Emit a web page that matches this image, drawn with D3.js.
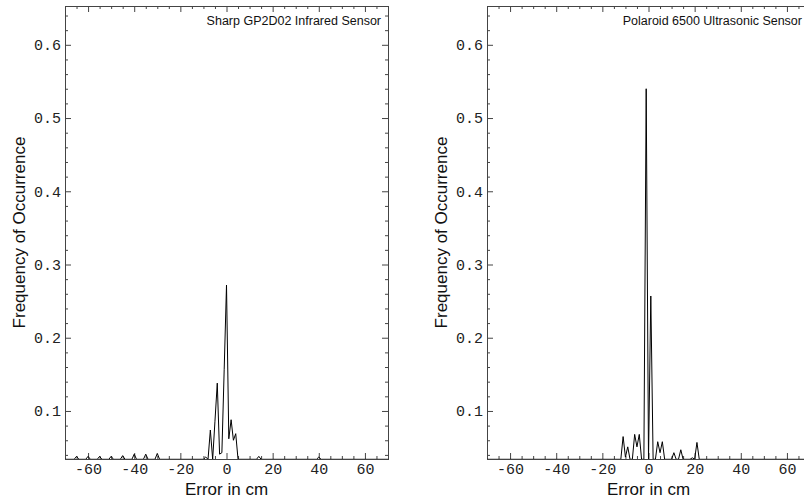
<!DOCTYPE html>
<html>
<head>
<meta charset="utf-8">
<script src="https://cdn.jsdelivr.net/npm/d3@7"></script>
<style>
  body { margin: 0; background: #fff; }
  .tick line { stroke: #444; }
  .tick text { font-family: "Liberation Mono", monospace; font-size: 15px; fill: #222; }
  .domain { display: none; }
  .aText { font-family: "Liberation Sans", Arial, sans-serif; font-size: 17px; fill: #111; }
  .title { font-family: "Liberation Sans", Arial, sans-serif; font-size: 12.5px; fill: #111; }
</style>
</head>
<body>
<div id="chart"></div>
<script>
// tick labels
const xTickValues = [-60, -40, -20, 0, 20, 40, 60];
const xMinorValues = [-70, -65, -55, -50, -45, -35, -30, -25, -15, -10, -5, 5, 10, 15, 25, 30, 35, 45, 50, 55, 65, 70];
const yTickValues = [0.1, 0.2, 0.3, 0.4, 0.5, 0.6];
const yMinorValues = [0.04, 0.06, 0.08, 0.12, 0.14, 0.16, 0.18, 0.22, 0.24, 0.26, 0.28,
                      0.32, 0.34, 0.36, 0.38, 0.42, 0.44, 0.46, 0.48, 0.52, 0.54, 0.56, 0.58, 0.62, 0.64];

// Sharp GP2D02 infrared sensor: error (cm) and frequency
const sharpError = [-70, -66, -65, -64, -61, -60, -59, -56, -55, -54, -51, -50, -49, -46, -45, -44,
                    -41, -40, -39, -36, -35, -34, -31, -30, -29, -10, -9, -8, -7, -6, -5, -4, -3, -2,
                    -1, 0, 1, 2, 3, 4, 5, 13, 14, 15, 39, 40, 41, 70];
const sharpFreq  = [0.034, 0.034, 0.038, 0.034, 0.034, 0.038, 0.034, 0.034, 0.038, 0.034, 0.034, 0.038, 0.034, 0.034, 0.039, 0.034,
                    0.034, 0.041, 0.034, 0.034, 0.041, 0.034, 0.034, 0.042, 0.034, 0.034, 0.037, 0.034, 0.074, 0.034, 0.086, 0.138, 0.041, 0.043,
                    0.157, 0.272, 0.062, 0.088, 0.060, 0.069, 0.034, 0.034, 0.038, 0.034, 0.034, 0.037, 0.034, 0.034];

// Polaroid 6500 ultrasonic sensor
const polaroidError = [-70, -12, -11, -10, -9, -8, -7, -6, -5, -4, -3, -2, -1, 0, 1, 2, 3, 4, 5, 6, 7,
                       10, 11, 12, 13, 14, 15, 18, 19, 20, 21, 22, 70];
const polaroidFreq  = [0.034, 0.034, 0.065, 0.037, 0.051, 0.034, 0.034, 0.068, 0.051, 0.068, 0.034, 0.034, 0.540, 0.034, 0.257, 0.034, 0.034, 0.058, 0.043, 0.058, 0.034,
                       0.034, 0.043, 0.034, 0.034, 0.047, 0.034, 0.034, 0.036, 0.034, 0.057, 0.034, 0.034];

const svgWidth = 804, svgHeight = 500;

const svg = d3.select("#chart")
  .append("svg")
  .attr("width", svgWidth)
  .attr("height", svgHeight);

function drawPanel(id, left, right, titleEnd, errors, freqs, title) {
  const top = 6, bottom = 459;

  const x = d3.scaleLinear().domain([-70, 70]).range([left, right]);
  const y = d3.scaleLinear().domain([0.0344, 0.653]).range([bottom, top]);

  const g = svg.append("g");

  g.append("clipPath").attr("id", "clip" + id)
    .append("rect")
    .attr("x", left).attr("y", top)
    .attr("width", right - left).attr("height", bottom - top);

  // ticks on all four sides, pointing inward
  g.append("g").attr("transform", `translate(0,${bottom})`)
    .call(d3.axisBottom(x).tickValues(xTickValues).tickSize(-6).tickPadding(4)
      .tickFormat(d => d < 0 ? "-" + Math.abs(d) : d));
  g.append("g").attr("transform", `translate(0,${bottom})`)
    .call(d3.axisBottom(x).tickValues(xMinorValues).tickSize(-3).tickFormat(""));
  g.append("g").attr("transform", `translate(0,${top})`)
    .call(d3.axisTop(x).tickValues(xTickValues).tickSize(-6).tickFormat(""));
  g.append("g").attr("transform", `translate(0,${top})`)
    .call(d3.axisTop(x).tickValues(xMinorValues).tickSize(-3).tickFormat(""));

  g.append("g").attr("transform", `translate(${left},0)`)
    .call(d3.axisLeft(y).tickValues(yTickValues).tickSize(-6).tickPadding(4)
      .tickFormat(d3.format(".1f")));
  g.append("g").attr("transform", `translate(${left},0)`)
    .call(d3.axisLeft(y).tickValues(yMinorValues).tickSize(-3).tickFormat(""));
  g.append("g").attr("transform", `translate(${right},0)`)
    .call(d3.axisRight(y).tickValues(yTickValues).tickSize(-6).tickFormat(""));
  g.append("g").attr("transform", `translate(${right},0)`)
    .call(d3.axisRight(y).tickValues(yMinorValues).tickSize(-3).tickFormat(""));

  // frame
  g.append("rect")
    .attr("x", left + 0.5).attr("y", top + 0.5)
    .attr("width", right - left).attr("height", bottom - top)
    .attr("fill", "none").attr("stroke", "#444").attr("stroke-width", 1);

  // the frequency line
  const line = d3.line().x((d, i) => x(errors[i])).y(d => y(d));
  g.append("path")
    .datum(freqs)
    .attr("clip-path", `url(#clip${id})`)
    .attr("d", line)
    .attr("fill", "none")
    .attr("stroke", "#000")
    .attr("stroke-width", 1);

  g.append("text")
    .attr("class", "title")
    .attr("x", titleEnd)
    .attr("y", 25)
    .attr("text-anchor", "end")
    .text(title);

  g.append("text")
    .attr("class", "aText")
    .attr("x", x(0))
    .attr("y", 495)
    .attr("text-anchor", "middle")
    .text("Error in cm");

  g.append("text")
    .attr("class", "aText")
    .attr("transform", `translate(${left - 40},${(top + bottom) / 2}) rotate(-90)`)
    .attr("text-anchor", "middle")
    .text("Frequency of Occurrence");
}

drawPanel("a", 65, 388, 381, sharpError, sharpFreq, "Sharp GP2D02 Infrared Sensor");
drawPanel("b", 487, 810, 802, polaroidError, polaroidFreq, "Polaroid 6500 Ultrasonic Sensor");
</script>
</body>
</html>
